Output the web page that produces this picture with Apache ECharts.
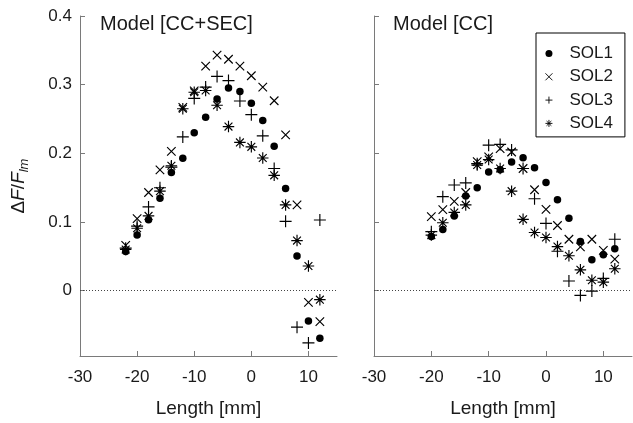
<!DOCTYPE html>
<html><head><meta charset="utf-8">
<script src="https://cdn.jsdelivr.net/npm/echarts@6/dist/echarts.min.js"></script>
<style>html,body{margin:0;padding:0;background:#fff}#c{width:633px;height:423px}</style>
</head><body><div id="c"></div>
<script>
// ---------- data ----------
const seriesNames = ['SOL1', 'SOL2', 'SOL3', 'SOL4'];
const panelTitles = ['Model [CC+SEC]', 'Model [CC]'];
const xTicks = [-30, -20, -10, 0, 10];
const yTicks = [0, 0.1, 0.2, 0.3, 0.4];

// Left panel: Model [CC+SEC]
const leftLength = [-22, -20, -18, -16, -14, -12, -10, -8, -6, -4, -2, 0, 2, 4, 6, 8, 10, 12];
const leftSOL1 = [0.057, 0.081, 0.1035, 0.1345, 0.172, 0.193, 0.230, 0.2525, 0.279, 0.295, 0.290, 0.273, 0.248, 0.2105, 0.149, 0.0506, -0.044, -0.069];
const leftSOL2 = [0.066, 0.105, 0.143, 0.176, 0.203, 0.267, 0.291, 0.327, 0.343, 0.337, 0.327, 0.313, 0.2965, 0.2766, 0.227, 0.125, -0.017, -0.045];
const leftSOL3 = [0.062, 0.094, 0.122, 0.150, 0.180, 0.224, 0.280, 0.2965, 0.312, 0.306, 0.2762, 0.2564, 0.2255, 0.178, 0.101, -0.053, -0.076, 0.103];
const leftSOL4 = [0.060, 0.091, 0.109, 0.145, 0.182, 0.265, 0.289, 0.2915, 0.270, 0.239, 0.216, 0.2095, 0.1932, 0.168, 0.125, 0.073, 0.036, -0.013];

// Right panel: Model [CC]
const rightLength = [-20, -18, -16, -14, -12, -10, -8, -6, -4, -2, 0, 2, 4, 6, 8, 10, 12];
const rightSOL1 = [0.079, 0.089, 0.109, 0.138, 0.150, 0.173, 0.176, 0.1875, 0.1937, 0.179, 0.1576, 0.1325, 0.1056, 0.0717, 0.0453, 0.0525, 0.0612];
const rightSOL2 = [0.108, 0.118, 0.130, 0.143, 0.188, 0.195, 0.207, 0.202, 0.178, 0.147, 0.1185, 0.095, 0.075, 0.064, 0.075, 0.0587, 0.046];
const rightSOL3 = [0.086, 0.137, 0.154, 0.157, 0.185, 0.212, 0.213, 0.205, 0.178, 0.134, 0.098, 0.0575, 0.0142, -0.0068, -0.0005, 0.018, 0.075];
const rightSOL4 = [0.081, 0.099, 0.114, 0.125, 0.183, 0.191, 0.178, 0.145, 0.104, 0.0848, 0.0775, 0.0643, 0.051, 0.0304, 0.0153, 0.0125, 0.032];

// ---------- styling ----------
const FONT = "'Liberation Sans', Arial, Helvetica, sans-serif";
const TXT = '#1a1a1a';
const AX = '#7a7a7a';
const symbols = {
  SOL1: 'circle',
  SOL2: 'path://M0,0L10,10M10,0L0,10',
  SOL3: 'path://M5,0L5,10M0,5L10,5',
  SOL4: 'path://M5,0L5,10M0,5L10,5M1.6,1.6L8.4,8.4M8.4,1.6L1.6,8.4'
};
const sizes = { SOL1: 7.5, SOL2: 8.5, SOL3: 12, SOL4: 11.5 };

function pairs(xs, ys) { return xs.map((x, i) => [x, ys[i]]); }

const panels = [
  { len: leftLength, vals: [leftSOL1, leftSOL2, leftSOL3, leftSOL4] },
  { len: rightLength, vals: [rightSOL1, rightSOL2, rightSOL3, rightSOL4] }
];

const series = [];
panels.forEach((p, gi) => {
  seriesNames.forEach((nm, si) => {
    const s = {
      name: nm, type: 'scatter', xAxisIndex: gi, yAxisIndex: gi,
      symbol: symbols[nm], symbolSize: sizes[nm],
      itemStyle: { color: '#000', borderColor: '#000', borderWidth: si === 0 ? 0 : 1.15, opacity: 1 },
      emphasis: { disabled: true },
      data: pairs(p.len, p.vals[si]), z: 3
    };
    if (si === 0) {
      s.markLine = {
        silent: true, symbol: ['none', 'none'], label: { show: false },
        lineStyle: { type: [1, 2], color: '#444', width: 1 },
        emphasis: { disabled: true },
        data: [{ yAxis: 0 }]
      };
    }
    series.push(s);
  });
});

function xAxis(gi) {
  return {
    type: 'value', gridIndex: gi, min: -30, max: 15,
    axisLine: { show: true, onZero: false, lineStyle: { color: AX, width: 1 } },
    axisTick: { show: true, inside: true, length: 5, customValues: xTicks, lineStyle: { color: AX } },
    axisLabel: { customValues: xTicks, fontSize: 17, color: TXT, fontFamily: FONT, margin: 13 },
    splitLine: { show: false },
    name: 'Length [mm]', nameLocation: 'middle', nameGap: 43,
    nameTextStyle: { fontSize: 19, color: TXT, fontFamily: FONT }
  };
}
function yAxis(gi) {
  const a = {
    type: 'value', gridIndex: gi, min: -0.095, max: 0.4,
    axisLine: { show: true, onZero: false, lineStyle: { color: AX, width: 1 } },
    axisTick: { show: true, inside: true, length: 5, customValues: yTicks, lineStyle: { color: AX } },
    axisLabel: { show: gi === 0, customValues: yTicks, fontSize: 17, color: TXT, fontFamily: FONT, margin: 8,
      formatter: v => (Math.abs(v) < 1e-9 ? '0' : v.toFixed(1)) },
    splitLine: { show: false }
  };
  if (gi === 0) {
    a.name = '{n|Δ}{i|F}{n|/}{i|F}{s|lm}';
    a.nameLocation = 'middle';
    a.nameRotate = 90;
    a.nameGap = 49;
    a.nameTextStyle = {
      fontFamily: FONT, color: TXT,
      rich: {
        n: { fontSize: 19, fontFamily: FONT, color: TXT, lineHeight: 25, verticalAlign: 'middle' },
        i: { fontSize: 19, fontFamily: FONT, color: TXT, fontStyle: 'italic', lineHeight: 25, verticalAlign: 'middle' },
        s: { fontSize: 13, fontFamily: FONT, color: TXT, fontStyle: 'italic', lineHeight: 25, verticalAlign: 'bottom' }
      }
    };
  }
  return a;
}

const legendIconStyle = { color: '#000', borderColor: '#000', borderWidth: 0.9 };
const option = {
  backgroundColor: '#fff',
  animation: false,
  title: [
    { text: panelTitles[0], left: 95, top: 9, textStyle: { fontSize: 20, fontWeight: 'normal', color: TXT, fontFamily: FONT } },
    { text: panelTitles[1], left: 388, top: 9, textStyle: { fontSize: 20, fontWeight: 'normal', color: TXT, fontFamily: FONT } }
  ],
  grid: [
    { left: 80, top: 16, width: 257, height: 342 },
    { left: 374, top: 16, width: 258, height: 342 }
  ],
  xAxis: [xAxis(0), xAxis(1)],
  yAxis: [yAxis(0), yAxis(1)],
  legend: {
    data: seriesNames.map((n, i) => ({ name: n, itemStyle: Object.assign({}, legendIconStyle, { borderWidth: i === 0 ? 0 : 0.9 }) })),
    orient: 'vertical', left: 536, top: 33,
    padding: [12, 12, 5, 9], itemGap: 6.3, itemWidth: 7, itemHeight: 7,
    borderColor: '#000', borderWidth: 1, backgroundColor: '#fff',
    textStyle: { fontSize: 17, color: TXT, fontFamily: FONT, padding: [0, 0, 0, 12] },
    selectedMode: false
  },
  series: series
};
const chart = echarts.init(document.getElementById('c'), null, { renderer: 'canvas' });
chart.setOption(option);
</script>
</body></html>
